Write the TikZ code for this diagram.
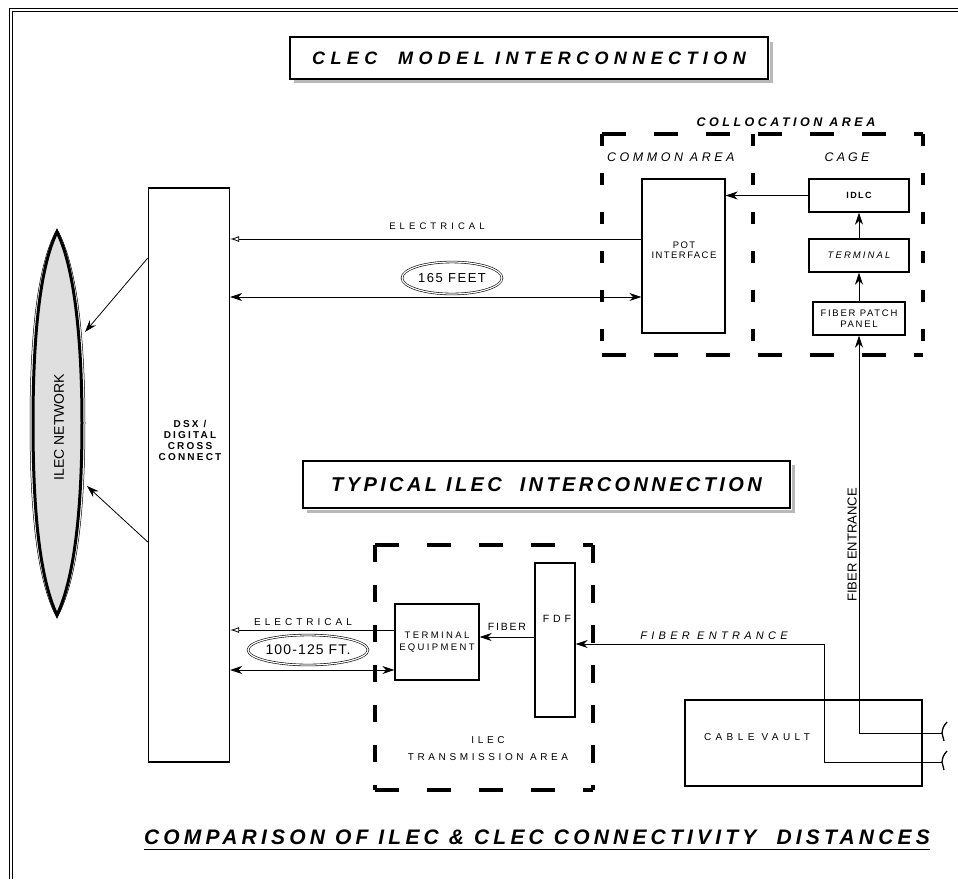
\documentclass[tikz,border=0pt]{standalone}
\usepackage{fontspec}
\setmainfont{Liberation Sans}
\usetikzlibrary{shapes.geometric,arrows.meta}
\newcommand{\LS}[1]{\addfontfeature{LetterSpace=#1}}
\newcommand{\fs}[1]{\fontsize{#1}{#1}\selectfont}
\begin{document}
\begin{tikzpicture}[x=1pt,y=-1pt,
  box/.style={draw, line width=1.4pt, inner sep=0pt, align=center},
  ttl/.style={draw, line width=1.6pt, inner sep=0pt, fill=white},
  lbl/.style={inner sep=0pt, align=center},
  conn/.style={line width=0.8pt},
  arr/.style={conn,-{Stealth[length=12pt,width=8pt]}},
  oarr/.style={conn,-{Latex[open,length=9pt,width=6pt]}},
  darr/.style={conn,{Stealth[length=12pt,width=8pt]}-{Stealth[length=12pt,width=8pt]}},
  dashh/.style={line width=3.5pt, dash pattern=on 24pt off 28pt},
  dashv/.style={line width=3.5pt, dash pattern=on 12pt off 27pt},
  shadowline/.style={draw=gray!55, line width=3pt},
  oval/.style={ellipse, draw, double, double distance=1.2pt, line width=0.6pt, inner sep=0pt},
]
\useasboundingbox (0,0) rectangle (958,879);
\fill[white] (0,0) rectangle (958,879);
% frame
\draw[line width=0.7pt] (9,879) -- (9,8) -- (958,8);
\draw[line width=0.7pt] (12,879) -- (12,11) -- (958,11);

% ---- CLEC title
\draw[shadowline] (771,42) -- (771,81) -- (294,81);
\node[ttl, minimum width=478pt, minimum height=42pt, font={\fs{18}\bfseries\itshape\LS{30}}] (t1) at (529,58)
  {CLEC\ \ MODEL INTERCONNECTION};

% ---- collocation area
\node[lbl, font={\fs{12.5}\bfseries\itshape\LS{28}}] (colab) at (786,122) {COLLOCATION AREA};
\draw[dashh] (602,134) -- (923,134);
\draw[dashh] (602,355) -- (923,355);
\draw[dashv] (602,134) -- (602,355);
\draw[dashv] (753,134) -- (753,355);
\draw[dashv] (923,134) -- (923,355);
\node[lbl, anchor=west, font={\fs{12.5}\itshape\LS{28}}] (comlab) at (607,157) {COMMON AREA};
\node[lbl, font={\fs{12.5}\itshape\LS{25}}] (cagelab) at (847,157) {CAGE};

\node[box, minimum width=83pt, minimum height=154pt] (pot) at (683.5,256) {};
\node[lbl, font={\fs{9.5}\LS{15}}] (potlab) at (684,250) {POT\\[1pt]INTERFACE};
\node[box, minimum width=100pt, minimum height=33pt, font={\fs{9}\bfseries\LS{15}}] (idlc) at (859,195.5) {IDLC};
\node[box, minimum width=100pt, minimum height=33pt, font={\fs{9.5}\itshape\LS{22}}] (term) at (859,255.5) {TERMINAL};
\node[box, minimum width=92pt, minimum height=33pt, font={\fs{9.5}\LS{18}}] (patch) at (859,318.5) {FIBER PATCH\\[1pt]PANEL};
\draw[arr] (idlc.west) -- (idlc.west -| pot.east);
\draw[arr] (term.north) -- (idlc.south);
\draw[arr] (patch.north) -- (term.south);

% ---- DSX and network
\node[box, minimum width=81pt, minimum height=574pt] (dsx) at (189,475) {};
\node[lbl, font={\fs{10}\bfseries\LS{22}}] (dsxlab) at (190,440) {DSX /\\[1pt]DIGITAL\\[1pt]CROSS\\[1pt]CONNECT};

\fill[gray!25] (57,232) .. controls (76,270) and (82,350) .. (82,423)
  .. controls (82,500) and (76,575) .. (57,615)
  .. controls (38,575) and (33,500) .. (33,423)
  .. controls (33,350) and (38,270) .. (57,232) -- cycle;
\draw[line width=3pt] (57,232) .. controls (76,270) and (82,350) .. (82,423)
  .. controls (82,500) and (76,575) .. (57,615)
  .. controls (38,575) and (33,500) .. (33,423)
  .. controls (33,350) and (38,270) .. (57,232) -- cycle;
\draw[line width=0.5pt] (57,229) .. controls (79,268) and (85,350) .. (85,423)
  .. controls (85,500) and (79,578) .. (57,618)
  .. controls (35,578) and (30,500) .. (30,423)
  .. controls (30,350) and (35,268) .. (57,229) -- cycle;
\node[lbl, rotate=90, font=\fs{14}] (net) at (59,427) {ILEC NETWORK};
\coordinate (netA) at (85,332);
\coordinate (netB) at (87,486);
\draw[arr] (dsx.west |- 0,258) -- (netA);
\draw[arr] (dsx.west |- 0,542) -- (netB);

% ---- CLEC connections
\draw[oarr] (pot.west |- 0,239) -- (dsx.east |- 0,239);
\node[lbl, font={\fs{9.5}\LS{43}}] (elec1) at (437,226) {ELECTRICAL};
\draw[darr] (dsx.east |- 0,297) -- (pot.west |- 0,297);
\node[oval, minimum width=100pt, minimum height=32pt, font={\fs{13}\LS{12}}] (d165) at (452,278) {165 FEET};

% ---- ILEC title
\draw[shadowline] (793,465) -- (793,511) -- (307,511);
\node[ttl, minimum width=487pt, minimum height=47pt, font={\fs{20}\bfseries\itshape\LS{17}}] (t2) at (546.5,484.5)
  {TYPICAL ILEC\ \ INTERCONNECTION};

% ---- ILEC transmission area
\draw[dashh] (375,545) -- (593,545);
\draw[dashh] (375,790) -- (593,790);
\draw[dashv, dash pattern=on 17pt off 23pt] (375,545) -- (375,790);
\draw[dashv, dash pattern=on 18pt off 22pt] (593,545) -- (593,790);
\node[lbl, font={\fs{10}\LS{36}}] (ilecta) at (488,749) {ILEC\\[7pt]TRANSMISSION AREA};

\node[box, minimum width=84pt, minimum height=76pt, font={\fs{9.5}\LS{25}}] (te) at (437,642) {TERMINAL\\[2pt]EQUIPMENT};
\node[box, minimum width=40pt, minimum height=154pt] (fdf) at (555,640) {};
\node[lbl, font={\fs{10.5}\LS{37}}] (fdflab) at (557,619) {FDF};
\draw[arr] (fdf.west |- 0,637) -- (te.east |- 0,637);
\node[lbl, font={\fs{10.5}\LS{17}}] (fiblab) at (507,627) {FIBER};
\draw[oarr] (te.west |- 0,630) -- (dsx.east |- 0,630);
\node[lbl, font={\fs{10}\LS{40}}] (elec2) at (303,622) {ELECTRICAL};
\draw[darr] (dsx.east |- 0,670) -- (te.west |- 0,670);
\node[oval, minimum width=120pt, minimum height=30pt, font={\fs{14}\LS{8}}] (d100) at (308,650) {100-125 FT.};

% ---- cable vault and fibre entrances
\node[box, minimum width=237pt, minimum height=86pt] (cv) at (803.5,743) {};
\node[lbl, font={\fs{10}\LS{44}}] (cvlab) at (757,737) {CABLE VAULT};
\coordinate (e1) at (942,733);
\coordinate (e2) at (942,762);
\coordinate (b2) at (824,644);
\draw[arr] (e1) -| (patch.south);
\draw[arr] (e2) -| (b2) -- (fdf.east |- b2);
\draw[line width=1.3pt] (947,722) .. controls (943,727) .. (942,733) -- (944,741);
\draw[line width=1.3pt] (947,751) .. controls (943,756) .. (942,762) -- (944,770);
\node[lbl, font={\fs{11}\itshape\LS{39}}] (fehlab) at (714,636) {FIBER ENTRANCE};
\node[lbl, rotate=90, anchor=south, font=\fs{13}] (fevlab) at (857,545) {FIBER ENTRANCE};

% ---- bottom title
\node[lbl, font={\fs{21}\bfseries\itshape\LS{20}}] (t3) at (537,837) {COMPARISON OF ILEC \& CLEC CONNECTIVITY\ \ DISTANCES};
\draw[line width=1.6pt] ([yshift=-5pt]t3.south west) -- ([yshift=-5pt]t3.south east);
\end{tikzpicture}
\end{document}
